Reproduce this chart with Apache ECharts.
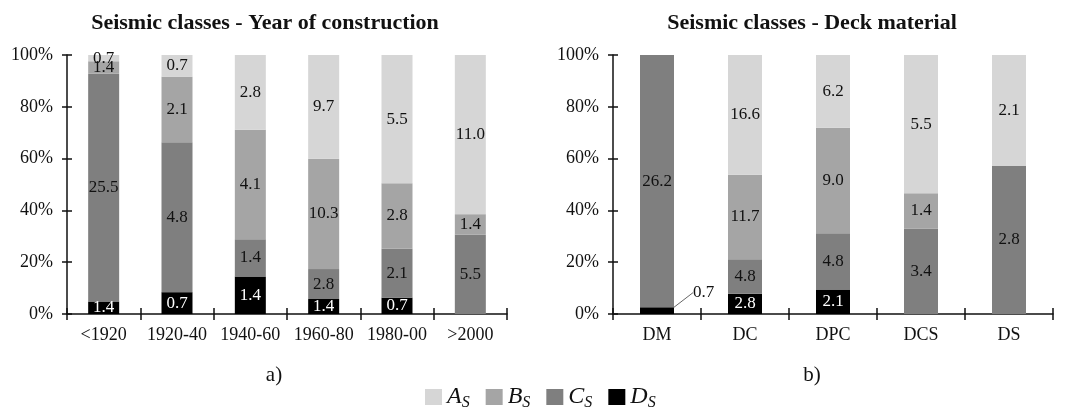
<!DOCTYPE html>
<html>
<head>
<meta charset="utf-8">
<script src="https://cdn.jsdelivr.net/npm/echarts@6/dist/echarts.min.js"></script>
<style>
  html, body { margin: 0; padding: 0; background: #fff; }
  #chart { width: 1067px; height: 409px; }
</style>
</head>
<body>
<div id="chart"></div>
<script>
// a) year of construction
var yearCats = ['<1920', '1920-40', '1940-60', '1960-80', '1980-00', '>2000'];
var yearA = [0.7, 0.7, 2.8, 9.7, 5.5, 11.0];
var yearB = [1.4, 2.1, 4.1, 10.3, 2.8, 1.4];
var yearC = [25.5, 4.8, 1.4, 2.8, 2.1, 5.5];
var yearD = [1.4, 0.7, 1.4, 1.4, 0.7, 0];
// b) deck material
var deckCats = ['DM', 'DC', 'DPC', 'DCS', 'DS'];
var deckA = [0, 16.6, 6.2, 5.5, 2.1];
var deckB = [0, 11.7, 9.0, 1.4, 0];
var deckC = [26.2, 4.8, 4.8, 3.4, 2.8];
var deckD = [0.7, 2.8, 2.1, 0, 0];
var yTicks = [0, 20, 40, 60, 80, 100];

var FONT = 'Liberation Serif';
var colors = { A: '#d6d6d6', B: '#a5a5a5', C: '#7f7f7f', D: '#000000' };

function totals(a, b, c, d) {
  return a.map(function (v, i) { return v + b[i] + c[i] + d[i]; });
}
var yearTot = totals(yearA, yearB, yearC, yearD);
var deckTot = totals(deckA, deckB, deckC, deckD);

function makeSeries(name, arr, tot, idx, barW) {
  return {
    name: name,
    type: 'bar',
    stack: 'g' + idx,
    xAxisIndex: idx * 2,
    yAxisIndex: idx * 2,
    barWidth: barW,
    itemStyle: { color: colors[name] },
    label: {
      show: true,
      position: 'inside',
      fontFamily: FONT,
      fontSize: 17,
      color: name === 'D' ? '#fff' : '#111',
      formatter: function (p) { return p.data.raw ? p.data.raw.toFixed(1) : ''; }
    },
    data: arr.map(function (v, i) { return { value: v / tot[i] * 100, raw: v }; })
  };
}

var series = [];
['D', 'C', 'B', 'A'].forEach(function (n) {
  var y = { A: yearA, B: yearB, C: yearC, D: yearD }[n];
  var d = { A: deckA, B: deckB, C: deckC, D: deckD }[n];
  series.push(makeSeries(n, y, yearTot, 0, 31));
  var s = makeSeries(n, d, deckTot, 1, 34);
  if (n === 'D') {
    // DM: tiny segment, label outside with a leader line
    s.data[0].label = { position: 'right', color: '#111' };
    s.labelLine = { show: true, lineStyle: { color: '#666', width: 1 } };
    s.labelLayout = function (p) {
      if (p.dataIndex === 0) return { dx: 14, dy: -18 };
    };
  }
  series.push(s);
});

function xAxes(cats, grid) {
  return [
    {
      type: 'category', gridIndex: grid, data: cats,
      axisLine: { lineStyle: { color: '#111', width: 1.5 } },
      axisTick: { show: true, interval: 0, length: 6, lineStyle: { color: '#111', width: 1.5 } },
      axisLabel: { fontFamily: FONT, fontSize: 18, color: '#111', margin: 12, interval: 0 }
    },
    {
      type: 'category', gridIndex: grid, data: cats, position: 'bottom',
      axisLine: { show: false },
      axisTick: { show: true, inside: true, interval: 0, length: 6, lineStyle: { color: '#111', width: 1.5 } },
      axisLabel: { show: false }
    }
  ];
}
function yAxes(grid) {
  return [
    {
      type: 'value', gridIndex: grid, min: 0, max: 100, interval: 20,
      axisLine: { show: true, lineStyle: { color: '#111', width: 1.5 } },
      axisTick: { show: true, length: 5, lineStyle: { color: '#111', width: 1.5 } },
      splitLine: { show: false },
      axisLabel: { fontFamily: FONT, fontSize: 18, color: '#111', margin: 14, formatter: '{value}%' }
    },
    {
      type: 'value', gridIndex: grid, min: 0, max: 100, interval: 20, position: 'left',
      axisLine: { show: false },
      axisTick: { show: true, inside: true, length: 5, lineStyle: { color: '#111', width: 1.5 } },
      splitLine: { show: false },
      axisLabel: { show: false }
    }
  ];
}

var option = {
  animation: false,
  textStyle: { fontFamily: FONT },
  title: [
    { text: 'Seismic classes - Year of construction', left: 260, top: 7, textAlign: 'center',
      textStyle: { fontFamily: FONT, fontSize: 22, fontWeight: 'bold', color: '#111' } },
    { text: 'Seismic classes - Deck material', left: 807, top: 7, textAlign: 'center',
      textStyle: { fontFamily: FONT, fontSize: 22, fontWeight: 'bold', color: '#111' } },
    { text: 'a)', left: 269, top: 360, textAlign: 'center',
      textStyle: { fontFamily: FONT, fontSize: 21, fontWeight: 'normal', color: '#111' } },
    { text: 'b)', left: 807, top: 360, textAlign: 'center',
      textStyle: { fontFamily: FONT, fontSize: 21, fontWeight: 'normal', color: '#111' } }
  ],
  legend: {
    data: ['A', 'B', 'C', 'D'],
    left: 420,
    top: 380,
    icon: 'rect',
    itemWidth: 17,
    itemHeight: 16,
    itemGap: 16,
    formatter: function (n) { return '{m|' + n + '}{s|S}'; },
    textStyle: {
      rich: {
        m: { fontFamily: FONT, fontStyle: 'italic', fontSize: 24, color: '#111' },
        s: { fontFamily: FONT, fontStyle: 'italic', fontSize: 16, color: '#111', padding: [12, 0, 0, 0] }
      }
    }
  },
  grid: [
    { left: 67, right: 560, top: 55, bottom: 95 },
    { left: 613, right: 14, top: 55, bottom: 95 }
  ],
  xAxis: xAxes(yearCats, 0).concat(xAxes(deckCats, 1)),
  yAxis: yAxes(0).concat(yAxes(1)),
  series: series
};

var chart = echarts.init(document.getElementById('chart'));
chart.setOption(option);
</script>
</body>
</html>
